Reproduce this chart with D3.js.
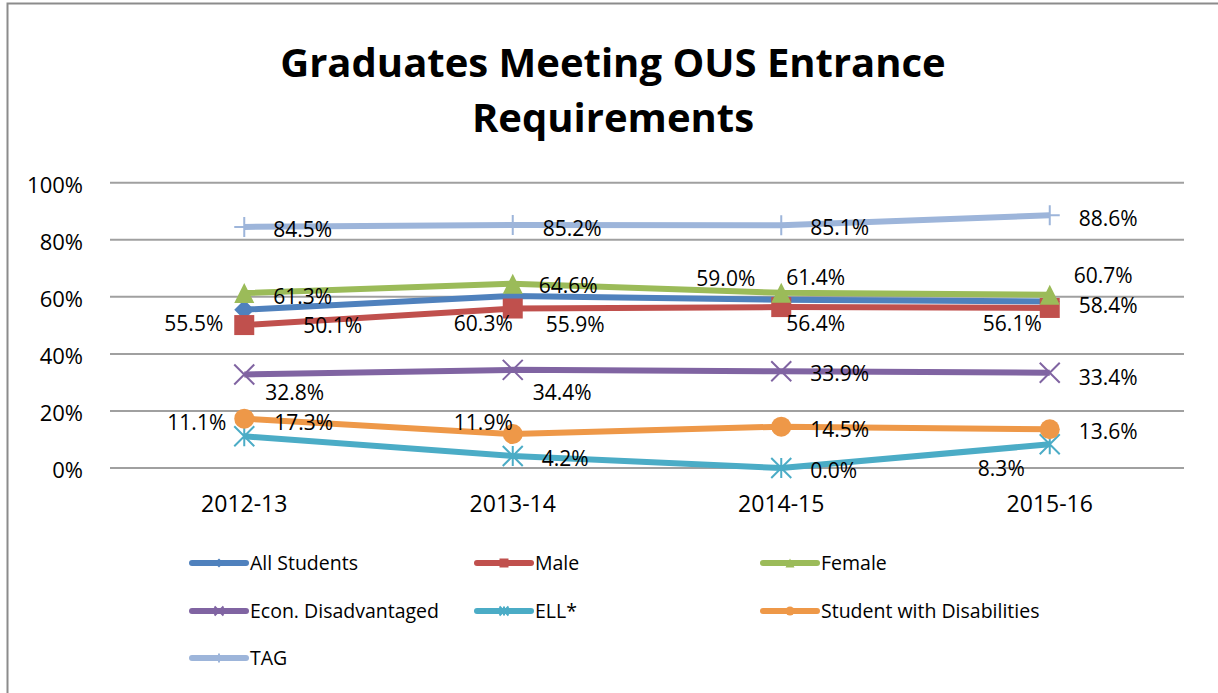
<!DOCTYPE html>
<html>
<head>
<meta charset="utf-8">
<script src="https://cdn.jsdelivr.net/npm/d3@7"></script>
<style>
  body { margin: 0; background: #fff; }
  svg { display: block; font-family: 'Open Sans', sans-serif; }
</style>
</head>
<body>
<div id="chart"></div>
<script>
// categories and series (values as fractions)
var years = ['2012-13', '2013-14', '2014-15', '2015-16'];
var seriesNames = ['All Students', 'Male', 'Female', 'Econ. Disadvantaged', 'ELL*', 'Student with Disabilities', 'TAG'];
var allStudents = [0.555, 0.603, 0.590, 0.584];
var male = [0.501, 0.559, 0.564, 0.561];
var female = [0.613, 0.646, 0.614, 0.607];
var econ = [0.328, 0.344, 0.339, 0.334];
var ell = [0.111, 0.042, 0.000, 0.083];
var swd = [0.173, 0.119, 0.145, 0.136];
var tag = [0.845, 0.852, 0.851, 0.886];
var yTicks = [0, 0.2, 0.4, 0.6, 0.8, 1.0];

var colors = ['#4F81BD', '#C0504D', '#9BBB59', '#8064A2', '#4BACC6', '#EE9848', '#9DB5DA'];
var markers = ['diamond', 'square', 'triangle', 'x', 'star', 'circle', 'plus'];

// data label placement per point: [anchor, dx, dy] relative to the point
var labelPos = [
    [['end', -21, 13], ['end', 0, 27], ['end', -26, -22], ['start', 29, 4]],
    [['start', 59, 0], ['start', 33, 15], ['start', 5, 16], ['end', -8, 15]],
    [['start', 29, 3], ['start', 26, 1], ['start', 5, -16], ['start', 24, -20]],
    [['start', 21, 18], ['start', 20, 22], ['start', 29, 2], ['start', 29, 4]],
    [['end', -18, -14], ['start', 29, 2], ['start', 29, 2], ['end', -25, 24]],
    [['start', 30, 3], ['end', 0, -12], ['start', 29, 2], ['start', 29, 2]],
    [['start', 29, 2], ['start', 30, 3], ['start', 29, 2], ['start', 29, 3]]
];

var seriesValues = [allStudents, male, female, econ, ell, swd, tag];
var series = seriesNames.map(function(n, i) {
    return {name: n, values: seriesValues[i], color: colors[i], marker: markers[i], labels: labelPos[i]};
});

var width = 1218, height = 693;
var svg = d3.select('#chart').append('svg')
    .attr('width', width)
    .attr('height', height);

// chart frame
svg.append('rect')
    .attr('x', 7.5).attr('y', 3.5)
    .attr('width', 1300).attr('height', 800)
    .attr('fill', 'none')
    .attr('stroke', '#8c8c8c')
    .attr('stroke-width', 2);

// title
var title = svg.append('text')
    .attr('text-anchor', 'middle')
    .attr('font-weight', 'bold')
    .attr('font-size', 40)
    .attr('fill', '#000');
title.append('tspan').attr('x', 613).attr('y', 77).text('Graduates Meeting OUS Entrance');
title.append('tspan').attr('x', 613).attr('y', 132).text('Requirements');

var x = d3.scaleBand().domain(years).range([110, 1184]);
var y = d3.scaleLinear().domain([0, 1]).range([468, 182.7]);
var cx = function(i) { return x(years[i]) + x.bandwidth() / 2; };

// gridlines
svg.append('g').selectAll('line')
    .data(yTicks)
    .join('line')
    .attr('x1', 110).attr('x2', 1184)
    .attr('y1', function(d) { return y(d); })
    .attr('y2', function(d) { return y(d); })
    .attr('stroke', '#a0a0a0')
    .attr('stroke-width', 2);

// y axis labels
var yAxis = svg.append('g')
    .attr('transform', 'translate(83,0)')
    .call(d3.axisLeft(y).tickValues(yTicks).tickSize(0).tickPadding(0).tickFormat(d3.format('.0%')));
yAxis.select('.domain').remove();
yAxis.selectAll('text')
    .attr('font-family', "'Open Sans', sans-serif")
    .attr('font-size', 22)
    .attr('fill', '#000')
    .attr('dy', '0.62em')
    .attr('transform', 'translate(0,-4)');

// x axis labels
var xAxis = svg.append('g')
    .attr('transform', 'translate(0,490)')
    .call(d3.axisBottom(x).tickSize(0).tickPadding(0));
xAxis.select('.domain').remove();
xAxis.selectAll('text')
    .attr('font-family', "'Open Sans', sans-serif")
    .attr('font-size', 23)
    .attr('fill', '#000')
    .attr('dy', '0.95em');

function drawMarker(g, type, color, s) {
    var h = s / 2;
    if (type === 'diamond') {
        g.append('path').attr('d', 'M0,' + (-h) + 'L' + h + ',0L0,' + h + 'L' + (-h) + ',0Z').attr('fill', color);
    } else if (type === 'square') {
        g.append('rect').attr('x', -h).attr('y', -h).attr('width', s).attr('height', s).attr('fill', color);
    } else if (type === 'triangle') {
        g.append('path').attr('d', 'M0,' + (-h) + 'L' + h + ',' + h + 'L' + (-h) + ',' + h + 'Z').attr('fill', color);
    } else if (type === 'circle') {
        g.append('circle').attr('r', h).attr('fill', color);
    } else if (type === 'x') {
        g.append('path').attr('d', 'M' + (-h) + ',' + (-h) + 'L' + h + ',' + h + 'M' + h + ',' + (-h) + 'L' + (-h) + ',' + h)
            .attr('stroke', color).attr('stroke-width', 2).attr('fill', 'none');
    } else if (type === 'star') {
        g.append('path').attr('d', 'M' + (-h) + ',' + (-h) + 'L' + h + ',' + h + 'M' + h + ',' + (-h) + 'L' + (-h) + ',' + h + 'M0,' + (-h) + 'L0,' + h)
            .attr('stroke', color).attr('stroke-width', 2).attr('fill', 'none');
    } else if (type === 'plus') {
        g.append('path').attr('d', 'M' + (-h) + ',0L' + h + ',0M0,' + (-h) + 'L0,' + h)
            .attr('stroke', color).attr('stroke-width', 2).attr('fill', 'none');
    }
}

var line = d3.line()
    .x(function(d, i) { return cx(i); })
    .y(function(d) { return y(d); });

// series lines and markers
series.forEach(function(s) {
    var g = svg.append('g');
    g.append('path')
        .attr('d', line(s.values))
        .attr('fill', 'none')
        .attr('stroke', s.color)
        .attr('stroke-width', 6)
        .attr('stroke-linejoin', 'round');
    s.values.forEach(function(v, i) {
        var m = g.append('g').attr('transform', 'translate(' + cx(i) + ',' + y(v) + ')');
        drawMarker(m, s.marker, s.color, 20);
    });
});

// data labels
var fmt = d3.format('.1%');
series.forEach(function(s) {
    s.values.forEach(function(v, i) {
        var p = s.labels[i];
        svg.append('text')
            .attr('x', cx(i) + p[1])
            .attr('y', y(v) + p[2] + 8)
            .attr('text-anchor', p[0])
            .attr('font-size', 21)
            .attr('fill', '#000')
            .text(fmt(v));
    });
});

// legend
var legCols = [192, 477, 763], legRows = [563, 611, 658];
series.forEach(function(s, i) {
    var lx = legCols[i % 3], ly = legRows[Math.floor(i / 3)];
    var g = svg.append('g').attr('transform', 'translate(' + lx + ',' + ly + ')');
    g.append('line')
        .attr('x1', 0).attr('x2', 54)
        .attr('stroke', s.color)
        .attr('stroke-width', 6)
        .attr('stroke-linecap', 'round');
    var m = g.append('g').attr('transform', 'translate(27,0)');
    drawMarker(m, s.marker, s.color, 9);
    g.append('text')
        .attr('x', 58)
        .attr('y', 7)
        .attr('font-size', 19.5)
        .attr('fill', '#000')
        .text(s.name);
});
</script>
</body>
</html>
